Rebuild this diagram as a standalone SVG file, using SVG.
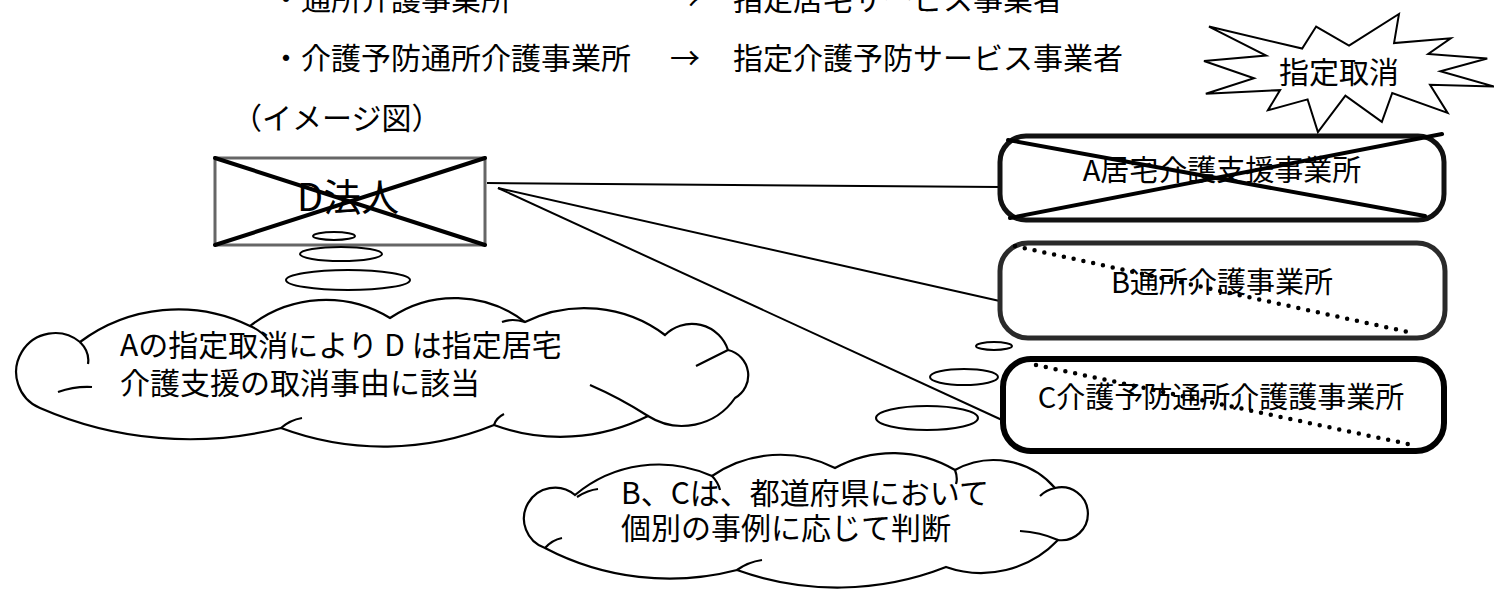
<svg xmlns="http://www.w3.org/2000/svg" width="1494" height="589" viewBox="0 0 1494 589">
  <style>
    text { font-family: 'Noto Sans CJK JP', 'Noto Sans', sans-serif; fill: #000; }
    .t30 { font-size: 30px; }
    .t29 { font-size: 29px; }
    .line { stroke: #000; stroke-width: 2; fill: none; }
    .cloud { stroke: #000; stroke-width: 2.2; fill: #fff; }
    .tail { stroke: #000; stroke-width: 2.2; fill: none; }
    .bubble { stroke: #000; stroke-width: 2; fill: #fff; }
    .box { stroke: #111; stroke-width: 5; fill: #fff; }
    .cross { stroke: #000; stroke-width: 4; fill: none; stroke-linecap: round; }
    .dots { stroke: #000; stroke-width: 4.5; fill: none; stroke-linecap: round; stroke-dasharray: 0 10; }
  </style>
  <rect x="0" y="0" width="1494" height="589" fill="#fff"/>

  <g id="header">
    <text class="t30" x="271" y="10">・通所介護事業所</text>
    <text class="t30" x="685" y="10" text-anchor="middle">→</text>
    <text class="t30" x="733" y="10">指定居宅サービス事業者</text>
    <text class="t30" x="271" y="69">・介護予防通所介護事業所</text>
    <text class="t30" x="685" y="69" text-anchor="middle">→</text>
    <text class="t30" x="733" y="69">指定介護予防サービス事業者</text>
    <text class="t30" x="232" y="129">（イメージ図）</text>
  </g>

  <g id="starburst">
    <path transform="translate(1204,14) scale(0.013426,0.005463)" vector-effect="non-scaling-stroke" stroke="#000" stroke-width="2" fill="#fff" stroke-linejoin="miter"
      d="M10800,5800 L14522,0 L14155,5325 L18380,4457 L16702,7315 L21097,8137 L17607,10475 L21600,13290 L16837,12942 L18145,18095 L14020,14457 L13247,19737 L10532,14935 L8485,21600 L7715,15627 L4762,17617 L5667,13937 L135,14587 L3722,11775 L0,8615 L4627,7617 L370,2295 L7312,6320 L8352,2295 Z"/>
    <text class="t30" x="1339" y="83" text-anchor="middle">指定取消</text>
  </g>

  <g id="connectors">
    <line class="line" x1="487" y1="183" x2="1000" y2="187"/>
    <line class="line" x1="498" y1="188" x2="1013" y2="304"/>
    <line class="line" x1="498" y1="188" x2="1002" y2="420"/>
  </g>

  <g id="node-D">
    <rect x="215" y="158" width="270" height="87" fill="#fff" stroke="#666" stroke-width="3"/>
    <text x="297" y="211" style="font-size:38px">D法人</text>
    <line class="cross" x1="215" y1="158" x2="485" y2="245"/>
    <line class="cross" x1="485" y1="158" x2="215" y2="245"/>
    <ellipse class="bubble" cx="334" cy="236" rx="21" ry="4"/>
  </g>

  <g id="bubbles-D">
    <ellipse class="bubble" cx="341" cy="254" rx="41" ry="7"/>
    <ellipse class="bubble" cx="348" cy="280" rx="62" ry="10"/>
  </g>

  <g id="node-A">
    <rect class="box" x="1000" y="136" width="444" height="84" rx="26" ry="26"/>
    <text class="t29" x="1222" y="181" text-anchor="middle">A居宅介護支援事業所</text>
    <line class="cross" x1="1010" y1="218" x2="1442" y2="134"/>
    <line class="cross" x1="1008" y1="140" x2="1425" y2="216"/>
  </g>

  <g id="node-B">
    <rect class="box" x="1000" y="243" width="445" height="95" rx="28" ry="28" style="stroke:#2a2a2a"/>
    <text class="t29" x="1222" y="293" text-anchor="middle">B通所介護事業所</text>
    <line class="dots" x1="1015" y1="246" x2="1408" y2="332"/>
  </g>

  <g id="node-C">
    <rect class="box" x="1003" y="359" width="441" height="92" rx="28" ry="28" style="stroke:#000;stroke-width:6"/>
    <text class="t29" x="1221" y="408" text-anchor="middle">C介護予防通所介護護事業所</text>
    <line class="dots" x1="1036" y1="365" x2="1408" y2="444"/>
  </g>

  <g id="bubbles-C">
    <ellipse class="bubble" cx="994" cy="346" rx="18" ry="4"/>
    <ellipse class="bubble" cx="964" cy="377" rx="34" ry="8"/>
    <ellipse class="bubble" cx="927" cy="418" rx="51" ry="12"/>
  </g>

  <g id="cloud-left">
    <path class="cloud" d="M80,342 A164 164 0 0 1 250,326 A123 123 0 0 1 390,318 A115 115 0 0 1 525,322 A134 134 0 0 1 665,335 A38 38 0 0 1 728,350 A26 26 0 0 1 735,398 A64 64 0 0 1 648,416 A194 194 0 0 1 494,425 A293 293 0 0 1 281,428 A375 375 0 0 1 40,408 A39 39 0 1 1 80,342 Z"/>
    <path class="tail" d="M80,342 Q90,352 88,364 M250,326 Q262,331 268,340 M525,322 Q512,318 502,322 M728,350 Q716,356 696,366 M648,416 Q620,398 590,385 M281,428 Q290,420 302,418 M58,392 Q75,386 92,387 M494,425 Q496,418 504,414"/>
    <text class="t30" x="120" y="356">Aの指定取消により D は指定居宅</text>
    <text class="t30" x="120" y="394">介護支援の取消事由に該当</text>
  </g>

  <g id="cloud-bottom">
    <path class="cloud" d="M575,495 A130 130 0 0 1 712,476 A120 120 0 0 1 835,468 A121 121 0 0 1 955,470 A81 81 0 0 1 1055,488 A26.5 26.5 0 1 1 1058,540 A106 106 0 0 1 946,567 A297 297 0 0 1 737,570 A268 268 0 0 1 545,548 A31 31 0 1 1 575,495 Z"/>
    <path class="tail" d="M577,497 Q588,490 598,489 M712,476 Q718,482 720,490 M955,470 Q958,478 956,484 M1055,488 Q1046,490 1040,496 M1058,540 Q1040,532 1020,531 M737,570 Q748,562 762,560 M545,548 Q552,540 562,538"/>
    <text class="t30" x="621" y="504">B、Cは、都道府県において</text>
    <text class="t30" x="621" y="539">個別の事例に応じて判断</text>
  </g>
</svg>
